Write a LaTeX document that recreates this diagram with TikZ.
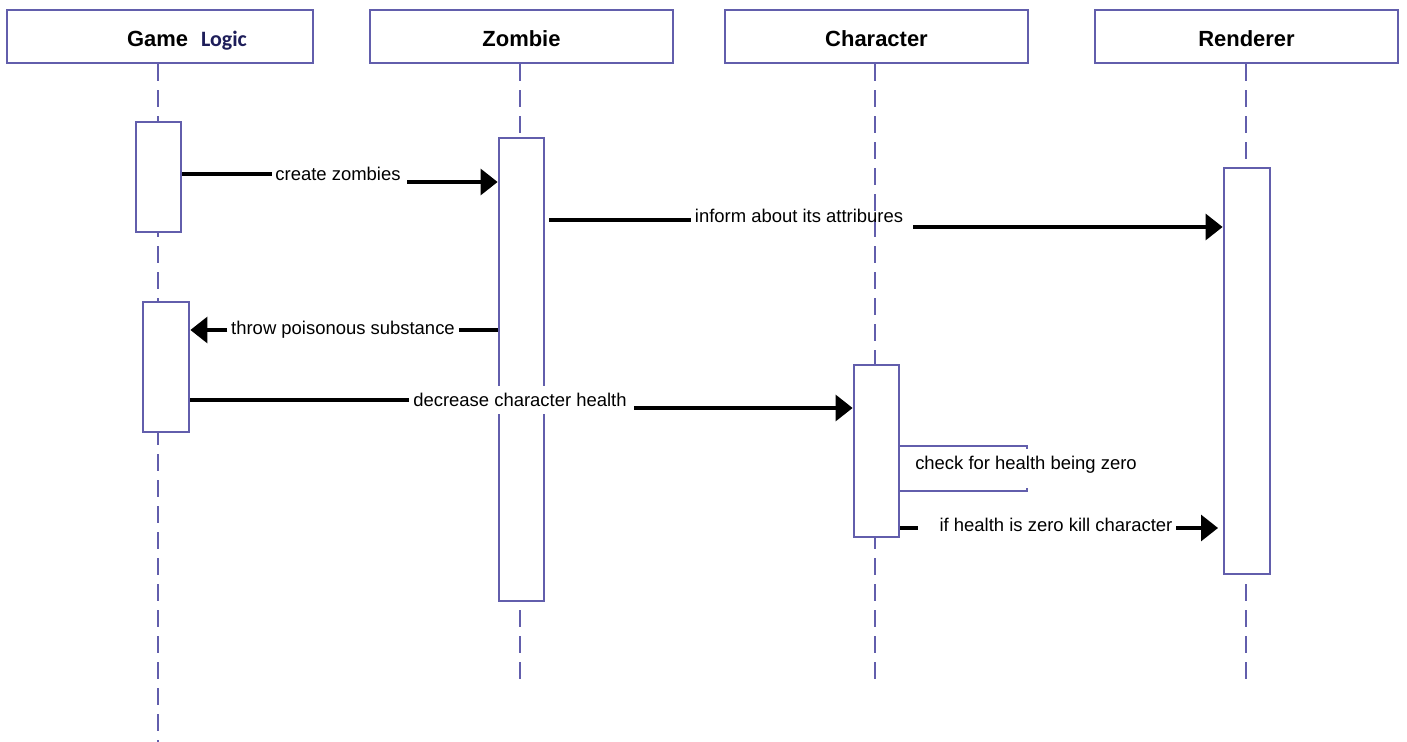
\documentclass[tikz,border=0pt]{standalone}
\usepackage{fontspec}
\setmainfont{Liberation Sans}
\newfontfamily\logicfont{Carlito}
\usetikzlibrary{arrows.meta}
\definecolor{lifeblue}{RGB}{98,94,172}
\definecolor{logicblue}{RGB}{30,30,90}
\tikzset{
  head/.style={draw=lifeblue, line width=1.6pt, fill=white, minimum width=6.06cm,
    minimum height=1.06cm, inner sep=0pt, text height=11.8pt, text depth=0pt,
    font=\fontsize{12.5}{15}\selectfont\bfseries},
  act/.style={draw=lifeblue, line width=1.6pt, fill=white, inner sep=0pt, minimum width=0.9cm},
  life/.style={draw=lifeblue, line width=1.6pt, dash pattern=on 0.34cm off 0.18cm},
  msg/.style={line width=1.8pt},
  call/.style={msg, -{Triangle[length=0.34cm,width=0.52cm]}},
  selfmsg/.style={draw=lifeblue, line width=1.3pt},
  lbl/.style={font=\fontsize{10.5}{12}\selectfont, inner xsep=2pt, inner ysep=1pt},
}

\begin{document}
\begin{tikzpicture}[x=0.02cm, y=-0.02cm]
  \useasboundingbox (0,0) rectangle (1407,742);

  % heads
  \node[head, minimum width=6.12cm] (gl) at (160,36.5)
    {\hspace*{1.08cm}Game\hspace{0.26cm}{\logicfont\color{logicblue}Logic}};
  \node[head] (zb) at (521.5,36.5) {Zombie};
  \node[head] (ch) at (876.5,36.5) {Character};
  \node[head] (re) at (1246.5,36.5) {Renderer};

  % lifelines
  \coordinate (glend) at (158,742);
  \coordinate (zbend) at (520,688);
  \coordinate (chend) at (875,688);
  \coordinate (reend) at (1246,688);
  \draw[life] (gl.south -| glend) -- (glend);
  \draw[life] (zb.south -| zbend) -- (zbend);
  \draw[life] (ch.south -| chend) -- (chend);
  \draw[life] (re.south -| reend) -- (reend);

  % activations
  \node[act, minimum height=2.2cm] (gla) at (158.5,177) {};
  \node[act, minimum width=0.92cm, minimum height=2.6cm] (glb) at (166,367) {};
  \node[act, minimum height=9.26cm] (zba) at (521.5,369.5) {};
  \node[act, minimum height=3.44cm] (cha) at (876.5,451) {};
  \node[act, minimum width=0.92cm, minimum height=8.12cm] (rea) at (1247,371) {};

  % create zombies
  \node[lbl] (m1) at (338,174) {create zombies};
  \coordinate (m1b) at (407,182);
  \draw[msg] (gla.east |- m1) -- (m1.west);
  \draw[call] (m1b) -- (zba.west |- m1b);

  % inform about its attribures
  \node[lbl] (m2) at (799,216) {inform about its attribures};
  \coordinate (m2a) at (549,220);
  \coordinate (m2b) at (913,227);
  \draw[msg] (m2a) -- (m2.west |- m2a);
  \draw[call] (m2b) -- (rea.west |- m2b);

  % throw poisonous substance
  \node[lbl] (m3) at (343,330) {throw poisonous substance};
  \draw[msg] (zba.west |- m3) -- (m3.east);
  \draw[call] (m3.west) -- (glb.east |- m3);

  % decrease character health
  \node[lbl, fill=white, inner ysep=4pt] (m4) at (520,400) {decrease character health};
  \coordinate (m4b) at (634,408);
  \draw[msg] (glb.east |- m4) -- (m4.west);
  \draw[call] (m4b) -- (cha.west |- m4b);

  % check for health being zero
  \node[lbl] (m5) at (1026,465) {check for health being zero};
  \coordinate (s1) at (1027,446);
  \coordinate (s2) at (1027,491);
  \draw[selfmsg] (cha.east |- s1) -- (s1) -- ++(0,3);
  \draw[selfmsg] (cha.east |- s2) -- (s2) -- ++(0,-3);

  % if health is zero kill character
  \node[lbl] (m6) at (1056,525) {if health is zero kill character};
  \coordinate (m6a) at (918,528);
  \coordinate (m6b) at (1218,528);
  \draw[msg] (cha.east |- m6a) -- (m6a);
  \draw[call] (m6.east |- m6b) -- (m6b);
\end{tikzpicture}
\end{document}
